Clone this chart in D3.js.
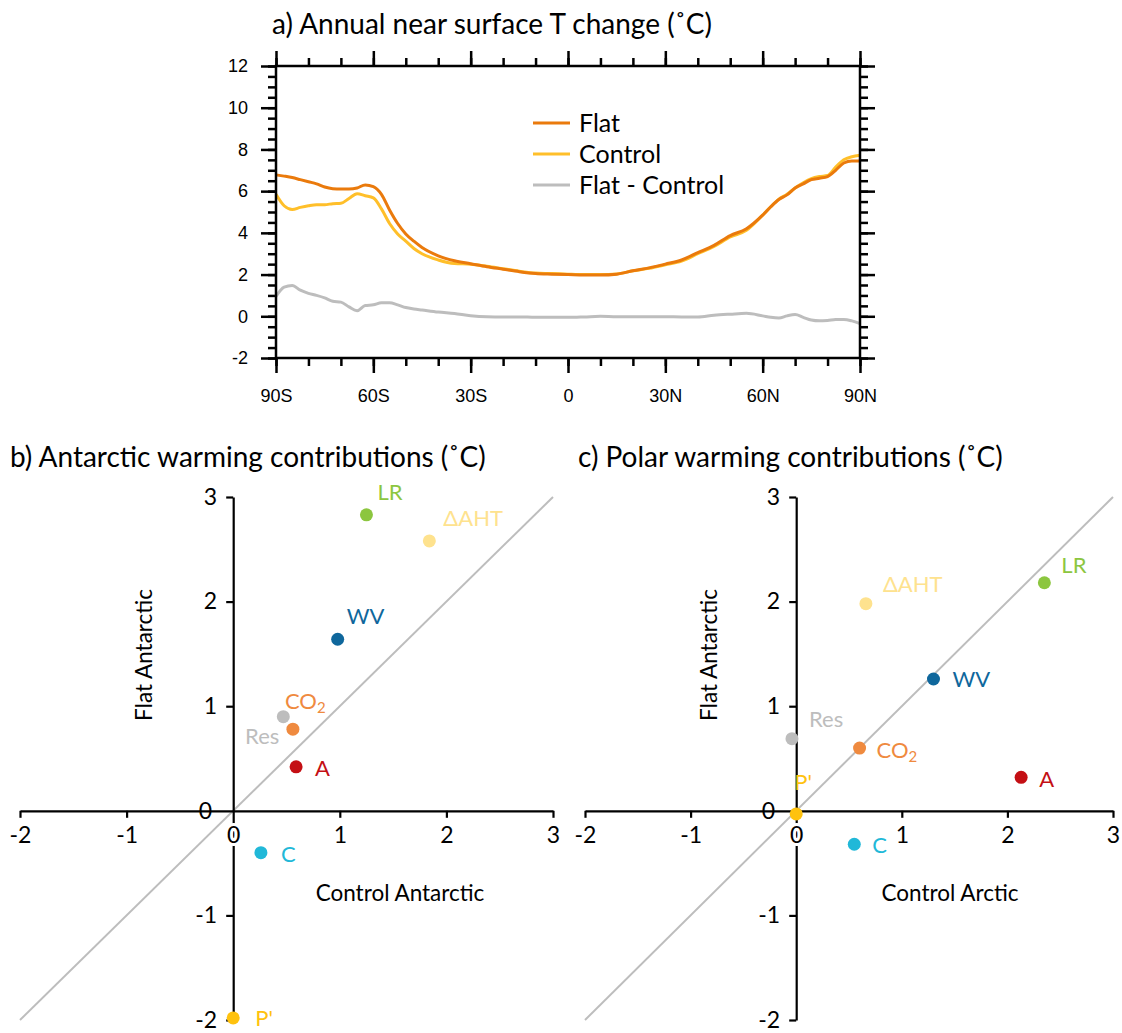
<!doctype html>
<html lang="en">
<head>
<meta charset="utf-8">
<title>Polar amplification</title>
<style>
  body { margin: 0; background: #fff; }
  svg text { font-family: Lato, "Open Sans", sans-serif; }
</style>
</head>
<body>
<script src="https://d3js.org/d3.v7.min.js"></script>
<script>
// ---- panel a data: zonal-mean near surface T change (deg C) ----
var lats = [-90, -87.5, -85, -82.5, -80, -77.5, -75, -72.5, -70, -67.5, -65, -62.5, -60, -57.5, -55, -52.5, -50, -47.5, -45,
  -40, -35, -30, -25, -20, -15, -10, -5, 0, 5, 10, 15, 20, 25, 30, 35, 40, 45, 50, 55,
  60, 62.5, 65, 67.5, 70, 72.5, 75, 77.5, 80, 82.5, 85, 87.5, 90];
var flatT = [6.78, 6.72, 6.65, 6.55, 6.45, 6.35, 6.2, 6.12, 6.1, 6.1, 6.15, 6.3, 6.22, 5.85, 5.1, 4.45, 3.95, 3.6, 3.3,
  2.9, 2.66, 2.52, 2.38, 2.26, 2.14, 2.05, 2.02, 2.0, 1.98, 1.98, 2.02, 2.18, 2.32, 2.5, 2.7, 3.05, 3.4, 3.87, 4.2,
  4.85, 5.25, 5.6, 5.82, 6.15, 6.35, 6.55, 6.62, 6.7, 7.0, 7.35, 7.45, 7.45];
var controlT = [5.85, 5.3, 5.12, 5.22, 5.3, 5.35, 5.35, 5.4, 5.42, 5.65, 5.88, 5.78, 5.68, 5.15, 4.45, 3.95, 3.6, 3.25, 3.0,
  2.7, 2.53, 2.5, 2.4, 2.28, 2.16, 2.07, 2.05, 2.02, 2.0, 2.0, 2.03, 2.18, 2.3, 2.47, 2.65, 3.0, 3.35, 3.8, 4.12,
  4.85, 5.25, 5.62, 5.85, 6.15, 6.4, 6.6, 6.7, 6.75, 7.15, 7.5, 7.65, 7.72];
var diffT = [0.95, 1.4, 1.48, 1.25, 1.1, 1.0, 0.88, 0.72, 0.68, 0.45, 0.27, 0.52, 0.55, 0.65, 0.65, 0.55, 0.42, 0.35, 0.3,
  0.2, 0.13, 0.03, -0.02, -0.03, -0.03, -0.05, -0.05, -0.05, -0.03, 0.0, -0.02, -0.02, -0.02, -0.02, -0.03, -0.03, 0.05, 0.1, 0.14,
  0.02, -0.05, -0.08, 0.02, 0.08, -0.05, -0.18, -0.22, -0.2, -0.16, -0.15, -0.22, -0.35];

var seriesNames = ['Flat', 'Control', 'Flat - Control'];
var seriesColors = ['#ea7a0c', '#ffbf2a', '#bdbdbd'];

var latTicks = [-90, -60, -30, 0, 30, 60, 90];
var latTickLabels = ['90S', '60S', '30S', '0', '30N', '60N', '90N'];
var tTicks = [-2, 0, 2, 4, 6, 8, 10, 12];

// ---- panels b, c data: warming contributions (deg C) ----
var terms = ['LR', '\u0394AHT', 'WV', 'CO2', 'Res', 'A', 'C', "P'"];
var termColors = ['#8cc63f', '#fee28e', '#0f679c', '#ef8a3f', '#bdbdbd', '#c40f14', '#21b8d8', '#ffc20e'];
var antControl = [1.25, 1.84, 0.98, 0.56, 0.47, 0.59, 0.26, 0.0];
var antFlat = [2.83, 2.58, 1.64, 0.78, 0.90, 0.42, -0.40, -1.98];
var arcControl = [2.35, 0.66, 1.30, 0.60, -0.04, 2.13, 0.55, 0.0];
var polFlat = [2.18, 1.98, 1.26, 0.60, 0.69, 0.32, -0.32, -0.03];
var scatterTicks = [-2, -1, 0, 1, 2, 3];

// label placement relative to the dot [dx, dy, anchor]
var labelPosB = [[11, -22, 'start'], [14, -23, 'start'], [9, -23, 'start'], [-8, -28, 'start'],
  [-4, 20, 'end'], [19, 1, 'start'], [20, 2, 'start'], [22, 0, 'start']];
var labelPosC = [[17, -17, 'start'], [17, -19, 'start'], [19, 0, 'start'], [17, 2, 'start'],
  [17, -19, 'start'], [18, 2, 'start'], [18, 1, 'start'], [-2, -32, 'start']];

var svg = d3.select('body').append('svg')
  .attr('width', 1122)
  .attr('height', 1033);

// plain hyphen for negatives, like the original
function num(d) { return String(d); }

// ================= panel a =================
var pa = {left: 276, right: 860, top: 66, bottom: 358};
var x = d3.scaleLinear().domain([-90, 90]).range([pa.left, pa.right]);
var y = d3.scaleLinear().domain([-2, 12]).range([pa.bottom, pa.top]);
var helv = '"Liberation Sans", Arial, sans-serif';

function styleTicks(g) {
  g.select('.domain').remove();
  g.selectAll('.tick line').attr('stroke', '#000').attr('stroke-width', 2.5);
  g.selectAll('.tick text').style('font-family', helv).style('font-size', '18px').attr('fill', '#000');
}

var minorLat = d3.range(-90, 91, 10);
var minorT = d3.range(-2, 12.01, 0.5);

// bottom
svg.append('g').attr('transform', 'translate(0,' + pa.bottom + ')')
  .call(d3.axisBottom(x).tickValues(minorLat).tickSize(8).tickFormat(''))
  .call(styleTicks);
svg.append('g').attr('transform', 'translate(0,' + pa.bottom + ')')
  .call(d3.axisBottom(x).tickValues(latTicks).tickSize(15).tickPadding(16)
    .tickFormat(function(d, i) { return latTickLabels[i]; }))
  .call(styleTicks);
// top
svg.append('g').attr('transform', 'translate(0,' + pa.top + ')')
  .call(d3.axisTop(x).tickValues(minorLat).tickSize(8).tickFormat(''))
  .call(styleTicks);
svg.append('g').attr('transform', 'translate(0,' + pa.top + ')')
  .call(d3.axisTop(x).tickValues(latTicks).tickSize(15).tickFormat(''))
  .call(styleTicks);
// left
svg.append('g').attr('transform', 'translate(' + pa.left + ',0)')
  .call(d3.axisLeft(y).tickValues(minorT).tickSize(8).tickFormat(''))
  .call(styleTicks);
svg.append('g').attr('transform', 'translate(' + pa.left + ',0)')
  .call(d3.axisLeft(y).tickValues(tTicks).tickSize(15).tickPadding(13).tickFormat(num))
  .call(styleTicks);
// right
svg.append('g').attr('transform', 'translate(' + pa.right + ',0)')
  .call(d3.axisRight(y).tickValues(minorT).tickSize(8).tickFormat(''))
  .call(styleTicks);
svg.append('g').attr('transform', 'translate(' + pa.right + ',0)')
  .call(d3.axisRight(y).tickValues(tTicks).tickSize(15).tickFormat(''))
  .call(styleTicks);

var line = d3.line()
  .x(function(d) { return x(d[0]); })
  .y(function(d) { return y(d[1]); })
  .curve(d3.curveMonotoneX);

[diffT, controlT, flatT].forEach(function(vals, k) {
  var idx = 2 - k;
  svg.append('path')
    .datum(lats.map(function(l, i) { return [l, vals[i]]; }))
    .attr('d', line)
    .attr('fill', 'none')
    .attr('stroke', seriesColors[idx])
    .attr('stroke-width', 3)
    .attr('stroke-linejoin', 'round');
});

svg.append('rect')
  .attr('x', pa.left).attr('y', pa.top)
  .attr('width', pa.right - pa.left).attr('height', pa.bottom - pa.top)
  .attr('fill', 'none').attr('stroke', '#000').attr('stroke-width', 2.5);

// legend
var leg = svg.append('g');
seriesNames.forEach(function(name, i) {
  var ly = 123 + i * 31;
  leg.append('line').attr('x1', 533).attr('x2', 570).attr('y1', ly).attr('y2', ly)
    .attr('stroke', seriesColors[i]).attr('stroke-width', 3);
  leg.append('text').attr('x', 579).attr('y', ly).attr('dy', '0.35em')
    .style('font-size', '25px').text(name);
});

svg.append('text').attr('x', 272).attr('y', 34)
  .style('font-size', '28px').text('a) Annual near surface T change (\u02DAC)');

// ================= panels b, c =================
function scatterPanel(o) {
  var g = svg.append('g');
  var sx = d3.scaleLinear().domain([-2, 3]).range([o.x0, o.x1]);
  var sy = d3.scaleLinear().domain([-2, 3]).range([1020, 497]);

  g.append('line')
    .attr('x1', sx(-2)).attr('y1', sy(-2)).attr('x2', sx(3)).attr('y2', sy(3))
    .attr('stroke', '#bdbdbd').attr('stroke-width', 2);

  function styleAxis(a) {
    a.select('.domain').attr('stroke', '#000').attr('stroke-width', 2.2);
    a.selectAll('.tick line').attr('stroke', '#000').attr('stroke-width', 2.2);
    a.selectAll('.tick text')
      .style('font-family', 'Lato, sans-serif').style('font-size', '23px').attr('fill', '#000')
      .attr('stroke', '#fff').attr('stroke-width', 6).style('paint-order', 'stroke');
  }

  var xa = g.append('g').attr('transform', 'translate(0,' + sy(0) + ')')
    .call(d3.axisBottom(sx).tickValues(scatterTicks).tickSize(7).tickSizeOuter(0).tickPadding(9)
      .tickFormat(num))
    .call(styleAxis);
  xa.selectAll('.tick').filter(function(d) { return d === 0; }).select('line').remove();

  var ya = g.append('g').attr('transform', 'translate(' + sx(0) + ',0)')
    .call(d3.axisLeft(sy).tickValues(scatterTicks).tickSize(7).tickSizeOuter(0).tickPadding(9)
      .tickFormat(num))
    .call(styleAxis);
  ya.selectAll('.tick').filter(function(d) { return d === 0; }).select('line').remove();
  ya.selectAll('.tick').filter(function(d) { return d === 0; }).select('text')
    .attr('x', -21).attr('stroke-width', 4);
  // x labels on top so the zero label masks the vertical axis
  xa.raise();

  var pts = g.selectAll('.pt').data(terms).enter().append('g');
  pts.append('circle')
    .attr('cx', function(d, i) { return sx(o.xv[i]); })
    .attr('cy', function(d, i) { return sy(o.yv[i]); })
    .attr('r', 6.5)
    .attr('fill', function(d, i) { return termColors[i]; });
  var lab = pts.append('text')
    .attr('x', function(d, i) { return sx(o.xv[i]) + o.lp[i][0]; })
    .attr('y', function(d, i) { return sy(o.yv[i]) + o.lp[i][1]; })
    .attr('dy', '0.35em')
    .attr('text-anchor', function(d, i) { return o.lp[i][2]; })
    .style('font-size', '22px')
    .attr('fill', function(d, i) { return termColors[i]; });
  lab.each(function(d) {
    var t = d3.select(this);
    if (d === 'CO2') {
      t.append('tspan').text('CO');
      t.append('tspan').attr('dy', '0.3em').style('font-size', '15px').text('2');
    } else {
      t.text(d);
    }
  });

  g.append('text')
    .attr('transform', 'translate(' + o.ylabX + ',' + 655 + ') rotate(-90)')
    .attr('text-anchor', 'middle').style('font-size', '22.5px').text(o.ylab);
  g.append('text')
    .attr('x', o.xlabX).attr('y', 893).attr('dy', '0.35em')
    .attr('text-anchor', 'middle').style('font-size', '22.5px').text(o.xlab);
  g.append('text')
    .attr('x', o.titleX).attr('y', 467)
    .style('font-size', '28px').text(o.title);
}

scatterPanel({
  x0: 20, x1: 553, xv: antControl, yv: antFlat, lp: labelPosB,
  ylab: 'Flat Antarctic', ylabX: 152, xlab: 'Control Antarctic', xlabX: 400,
  title: 'b) Antarctic warming contributions (\u02DAC)', titleX: 10
});
scatterPanel({
  x0: 585, x1: 1113, xv: arcControl, yv: polFlat, lp: labelPosC,
  ylab: 'Flat Antarctic', ylabX: 717, xlab: 'Control Arctic', xlabX: 950,
  title: 'c) Polar warming contributions (\u02DAC)', titleX: 578
});
</script>
</body>
</html>
